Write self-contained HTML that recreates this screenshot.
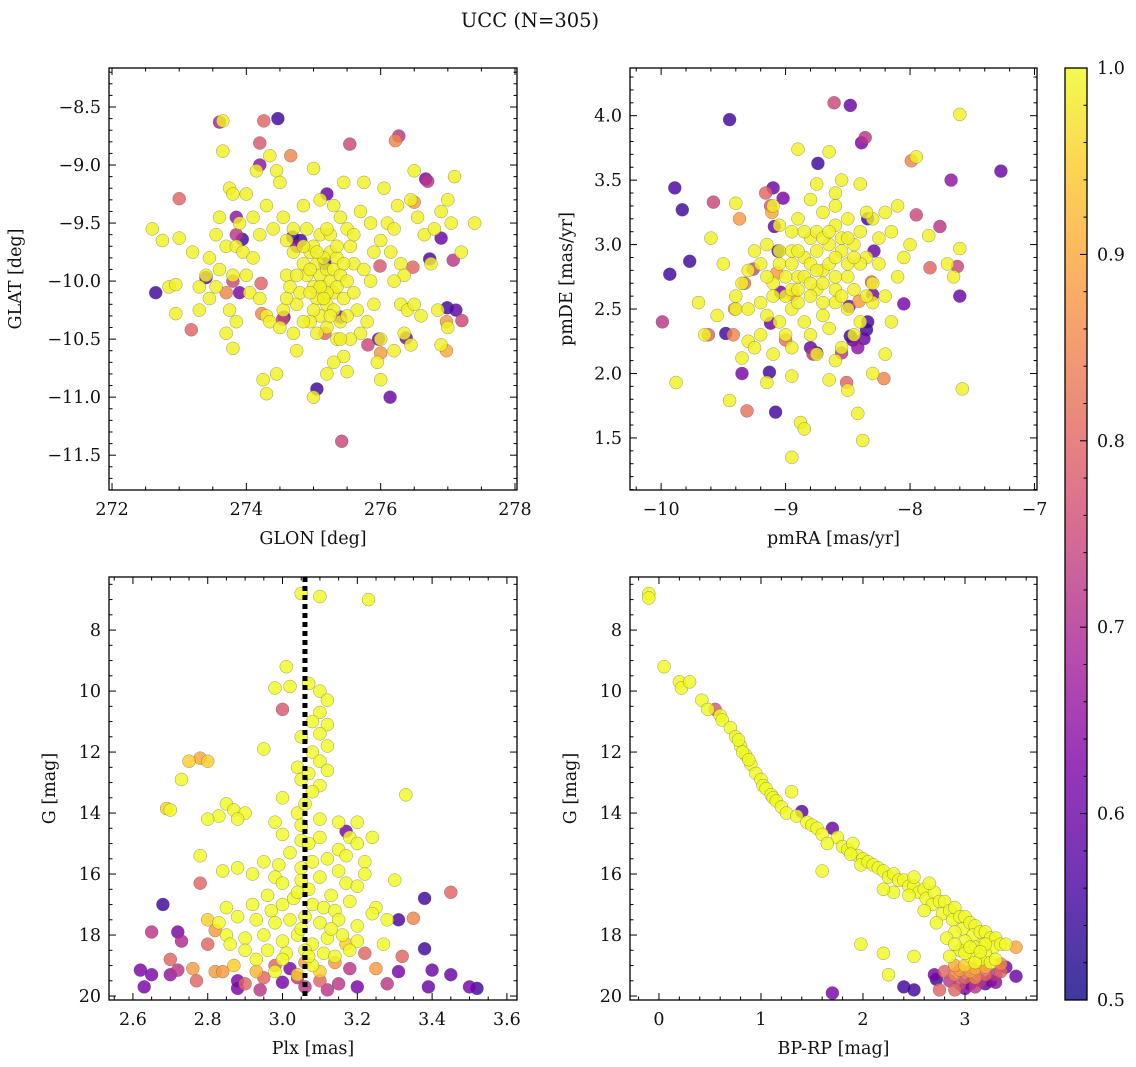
<!DOCTYPE html>
<html><head><meta charset="utf-8">
<style>
html,body{margin:0;padding:0;background:#fff;}
svg{display:block;font-family:"DejaVu Serif","Liberation Serif",serif;}
</style></head>
<body>
<svg id="fig" width="1136" height="1067" viewBox="0 0 1136 1067" xmlns="http://www.w3.org/2000/svg">
<text x="530" y="27" text-anchor="middle" font-size="19.5" fill="#111">UCC (N=305)</text>
<g id="layer"></g>
</svg>
<script>
// ---- Data ----
// Panel 1: GLON, GLAT, prob
const glonGlatYellow = [[272.6,-9.55],[272.75,-9.65],[272.85,-10.05],[272.95,-10.03],[273.0,-9.63],[273.2,-9.75],[272.95,-10.28],[273.45,-9.8],[273.4,-9.95],[273.55,-10.05],[273.45,-10.15],[273.6,-9.9],[273.7,-9.7],[273.8,-9.95],[273.75,-9.2],[273.8,-9.25],[273.65,-8.88],[273.9,-9.5],[273.85,-9.7],[273.95,-9.75],[274.0,-9.95],[273.75,-10.25],[273.85,-10.35],[273.7,-10.45],[273.8,-10.58],[274.05,-10.1],[274.1,-9.8],[274.2,-9.6],[274.3,-9.35],[274.35,-8.92],[274.45,-9.05],[274.5,-9.15],[274.2,-10.15],[274.3,-10.3],[274.35,-10.35],[274.25,-10.85],[274.3,-10.97],[274.45,-10.8],[274.5,-10.4],[274.55,-9.45],[274.6,-9.65],[274.7,-9.55],[274.7,-9.75],[274.6,-9.95],[274.65,-10.05],[274.75,-10.2],[274.55,-10.25],[274.7,-10.45],[274.75,-10.6],[274.85,-9.35],[274.9,-9.55],[274.95,-9.75],[274.85,-9.85],[274.9,-9.95],[275.0,-9.7],[275.05,-9.85],[275.1,-9.95],[275.0,-10.05],[275.05,-10.15],[275.15,-10.05],[275.2,-9.9],[275.25,-10.0],[275.3,-10.1],[275.2,-10.2],[275.1,-10.3],[275.0,-10.25],[274.95,-10.35],[275.25,-9.75],[275.35,-9.8],[275.3,-9.9],[275.4,-9.95],[275.35,-10.05],[275.45,-10.15],[275.3,-10.25],[275.4,-10.35],[275.2,-10.4],[275.0,-9.03],[275.1,-9.3],[275.3,-9.35],[275.4,-9.45],[275.5,-9.55],[275.45,-9.15],[275.55,-9.7],[275.6,-9.85],[275.5,-10.0],[275.6,-10.1],[275.65,-10.25],[275.7,-10.45],[275.55,-10.5],[275.45,-10.65],[275.3,-10.7],[275.5,-10.78],[275.2,-10.8],[275.0,-11.0],[275.85,-10.0],[275.9,-10.2],[275.8,-10.35],[276.0,-10.5],[275.95,-10.7],[276.0,-10.85],[276.05,-9.2],[276.1,-9.5],[276.2,-9.55],[276.0,-9.65],[276.15,-9.75],[276.3,-9.85],[276.35,-9.95],[276.2,-10.0],[276.3,-10.2],[276.4,-10.25],[276.5,-10.2],[276.6,-10.3],[276.35,-10.45],[276.45,-10.55],[276.2,-10.6],[276.45,-9.3],[276.55,-9.45],[276.65,-9.6],[276.75,-9.85],[276.8,-9.55],[276.9,-9.4],[277.0,-9.3],[277.1,-9.1],[277.05,-9.5],[277.2,-9.75],[277.4,-9.5],[276.85,-10.25],[277.0,-10.4],[276.9,-10.55],[275.75,-9.15],[275.7,-9.4],[275.85,-9.5],[276.25,-9.35],[276.5,-9.05],[274.0,-9.25],[274.15,-9.05],[274.4,-9.55],[274.1,-9.45],[273.6,-9.45],[273.55,-9.6],[273.3,-10.05],[273.3,-10.25],[273.65,-8.62],[275.1,-9.6],[275.15,-9.8],[274.95,-9.9],[275.2,-10.1],[275.1,-10.05],[275.25,-9.6],[274.8,-10.1],[275.35,-10.5],[275.45,-9.85],[274.85,-10.35],[275.05,-9.75],[275.15,-10.15],[274.95,-10.1],[275.25,-10.3],[275.35,-9.7],[275.05,-10.45],[274.85,-9.7],[275.5,-10.3],[275.6,-9.6],[274.75,-9.95],[275.2,-9.55],[275.4,-10.5],[274.6,-10.15],[275.75,-9.9],[275.9,-9.75]];
const glonGlatColored = [[272.65,-10.1,0.55],[273.6,-8.63,0.68],[274.26,-8.62,0.8],[274.47,-8.6,0.55],[274.2,-8.81,0.78],[274.66,-8.92,0.85],[274.2,-9.0,0.65],[275.54,-8.82,0.75],[276.27,-8.75,0.72],[276.22,-8.79,0.85],[276.7,-9.14,0.72],[276.67,-9.12,0.62],[276.5,-9.32,0.88],[276.9,-9.63,0.6],[273.0,-9.29,0.8],[273.85,-9.45,0.65],[273.85,-9.6,0.72],[273.94,-9.64,0.55],[273.4,-9.97,0.58],[273.9,-10.1,0.62],[273.18,-10.42,0.8],[274.23,-10.28,0.85],[274.54,-10.33,0.75],[274.56,-10.31,0.6],[275.17,-10.45,0.8],[275.4,-10.31,0.62],[275.81,-10.55,0.75],[275.97,-10.5,0.6],[276.38,-10.49,0.62],[275.99,-9.87,0.78],[276.48,-9.88,0.8],[276.73,-9.81,0.56],[277.08,-9.82,0.72],[276.99,-10.23,0.55],[277.12,-10.25,0.58],[277.21,-10.34,0.75],[275.05,-10.93,0.55],[275.42,-11.38,0.75],[276.14,-11.0,0.6],[276.0,-10.62,0.88],[276.98,-10.6,0.9],[276.98,-10.35,0.88],[274.81,-9.65,0.55],[274.75,-9.7,0.65],[274.69,-9.62,0.55],[275.2,-9.25,0.6],[275.17,-9.85,0.55],[273.8,-10.0,0.75],[273.7,-10.1,0.85],[274.22,-10.02,0.8]];
// Panel 2: pmRA, pmDE, prob
const pmYellow = [[-9.88,1.93],[-9.65,2.3],[-9.55,2.45],[-9.4,2.5],[-9.35,2.12],[-9.3,2.25],[-9.45,1.79],[-9.15,1.93],[-8.95,1.98],[-8.88,1.62],[-8.85,1.57],[-8.95,1.35],[-8.38,1.48],[-8.42,1.69],[-8.5,1.87],[-8.3,2.0],[-8.2,2.15],[-7.58,1.88],[-7.6,4.01],[-7.95,3.68],[-8.1,3.3],[-8.2,3.25],[-8.15,3.1],[-8.3,3.2],[-8.4,3.47],[-8.55,3.5],[-8.6,3.4],[-8.75,3.47],[-8.9,3.74],[-8.65,3.72],[-9.4,3.32],[-9.1,3.3],[-9.05,3.15],[-8.95,3.1],[-9.15,3.0],[-9.25,2.95],[-9.3,2.8],[-9.35,2.7],[-9.4,2.6],[-9.3,2.5],[-9.2,2.55],[-9.1,2.7],[-9.05,2.85],[-9.0,2.6],[-8.95,2.5],[-8.9,2.75],[-8.85,2.9],[-8.8,3.05],[-8.75,2.65],[-8.7,2.8],[-8.65,3.0],[-8.6,3.15],[-8.55,2.95],[-8.5,2.75],[-8.45,3.0],[-8.4,3.1],[-8.35,2.9],[-8.3,2.7],[-8.25,2.85],[-8.2,2.6],[-8.1,2.75],[-8.05,2.9],[-8.0,3.0],[-7.85,3.07],[-7.7,2.85],[-7.65,2.75],[-7.6,2.97],[-8.85,2.4],[-8.8,2.3],[-8.7,2.45],[-8.65,2.35],[-8.6,2.55],[-8.55,2.2],[-8.45,2.3],[-8.4,2.4],[-8.5,2.5],[-8.3,2.55],[-8.15,2.4],[-9.0,2.3],[-9.05,2.4],[-9.1,2.15],[-9.15,2.45],[-9.2,2.3],[-9.25,2.2],[-8.95,2.95],[-8.9,3.2],[-8.8,3.35],[-8.7,3.25],[-8.6,2.65],[-8.7,2.55],[-8.75,2.95],[-8.8,2.6],[-8.9,2.55],[-9.0,2.75],[-9.05,2.95],[-8.5,2.85],[-8.45,2.65],[-8.35,3.25],[-8.25,3.05],[-8.6,3.3],[-8.55,3.05],[-8.65,2.85],[-8.75,3.1],[-8.85,2.75],[-9.6,3.05],[-9.7,2.55],[-9.5,2.85],[-9.2,2.85],[-8.95,2.2],[-8.75,2.15],[-8.6,2.1],[-8.65,1.95],[-8.35,2.6],[-8.8,2.85],[-8.7,2.7],[-8.6,2.9],[-8.9,2.95],[-8.5,3.2],[-8.7,3.05],[-8.95,2.65],[-9.1,2.6],[-8.4,2.85],[-8.55,2.6],[-8.85,3.1],[-8.65,3.1],[-8.75,2.8],[-8.95,2.85],[-8.5,3.05],[-8.8,2.7],[-9.15,2.75],[-8.6,2.75],[-8.9,2.65],[-8.45,2.9]];
const pmColored = [[-9.45,3.97,0.55],[-8.61,4.1,0.75],[-8.48,4.08,0.6],[-8.36,3.83,0.72],[-8.39,3.79,0.62],[-8.74,3.63,0.55],[-7.27,3.57,0.6],[-7.67,3.5,0.65],[-7.99,3.65,0.85],[-9.89,3.44,0.56],[-9.83,3.27,0.55],[-9.77,2.87,0.55],[-9.93,2.77,0.55],[-9.58,3.33,0.75],[-9.37,3.2,0.88],[-9.16,3.4,0.8],[-9.1,3.44,0.6],[-9.02,3.36,0.62],[-9.12,3.3,0.78],[-9.11,3.25,0.9],[-9.09,3.14,0.6],[-9.06,2.95,0.55],[-9.26,2.81,0.75],[-9.07,2.78,0.88],[-9.33,2.7,0.82],[-9.04,2.63,0.62],[-8.94,2.61,0.88],[-9.12,2.39,0.6],[-9.0,2.26,0.82],[-8.8,2.2,0.6],[-8.75,2.16,0.55],[-8.78,2.15,0.72],[-8.55,2.16,0.72],[-8.48,2.29,0.55],[-8.46,2.26,0.6],[-8.42,2.2,0.65],[-8.49,2.52,0.62],[-8.41,2.56,0.88],[-8.35,2.34,0.55],[-8.34,2.4,0.56],[-8.37,2.27,0.6],[-8.31,2.71,0.8],[-8.3,2.61,0.62],[-8.34,3.2,0.55],[-8.29,2.95,0.6],[-8.05,2.54,0.62],[-7.95,3.23,0.75],[-7.84,2.82,0.8],[-7.76,3.14,0.72],[-7.62,2.83,0.75],[-7.6,2.6,0.6],[-8.21,1.96,0.85],[-8.51,1.93,0.8],[-9.13,2.01,0.55],[-9.08,1.7,0.55],[-9.31,1.71,0.82],[-9.35,2.0,0.62],[-9.48,2.31,0.55],[-9.99,2.4,0.72],[-9.42,2.3,0.85],[-9.41,2.5,0.88],[-9.62,2.3,0.8]];
// Panel 3: Plx, G, prob
const plxG = [[3.05,6.8,1],[3.1,6.9,1],[3.23,7.0,1],[3.01,9.2,1],[2.98,9.9,1],[3.02,9.85,1],[3.07,9.75,1],[3.0,10.6,0.78],[3.1,10.0,1],[3.12,10.3,1],[3.1,10.7,1],[3.08,11.0,1],[3.12,11.1,1],[3.1,11.4,1],[3.05,11.5,1],[3.12,11.8,1],[2.95,11.9,1],[3.08,12.0,1],[3.1,12.3,1],[2.75,12.3,0.95],[2.78,12.2,0.9],[2.8,12.3,0.95],[3.04,12.5,1],[3.12,12.6,1],[2.73,12.9,1],[3.05,12.9,1],[3.1,13.1,1],[3.08,13.3,1],[3.33,13.4,1],[2.69,13.85,0.95],[2.7,13.9,1],[2.85,13.7,1],[2.87,13.9,1],[2.83,14.1,1],[2.9,14.0,1],[2.88,14.2,1],[2.8,14.2,1],[3.0,13.5,1],[3.04,14.0,1],[3.1,14.2,1],[3.15,14.3,1],[3.2,14.3,1],[2.98,14.3,1],[3.0,14.7,1],[3.05,14.9,1],[3.1,14.8,1],[3.17,14.6,0.62],[3.18,14.8,1],[3.2,15.0,1],[3.24,14.8,1],[3.15,15.2,1],[2.78,15.4,1],[2.95,15.6,1],[2.99,15.7,1],[3.02,15.3,1],[3.08,15.6,1],[3.12,15.5,1],[3.17,15.4,1],[3.22,15.6,1],[3.15,15.9,1],[2.84,15.9,1],[2.88,15.8,1],[2.92,16.0,1],[2.98,16.1,1],[3.0,16.3,1],[3.05,16.2,1],[3.1,16.1,1],[3.17,16.3,1],[3.2,16.4,1],[3.22,16.0,1],[2.78,16.3,0.8],[3.3,16.2,1],[3.38,16.8,0.55],[3.45,16.6,0.8],[2.68,17.0,0.55],[2.85,17.1,1],[2.92,17.0,1],[2.97,17.2,1],[3.0,17.0,1],[3.03,16.8,1],[3.08,17.0,1],[3.11,17.1,1],[3.14,17.2,1],[3.18,16.9,1],[3.25,17.1,1],[2.8,17.5,0.95],[2.83,17.6,1],[2.88,17.4,1],[2.93,17.5,1],[2.98,17.6,1],[3.02,17.5,1],[3.06,17.4,1],[3.1,17.6,1],[3.15,17.5,1],[3.2,17.7,1],[3.24,17.3,1],[3.28,17.5,1],[3.31,17.5,0.56],[3.35,17.45,0.85],[2.65,17.9,0.72],[2.72,17.9,0.62],[2.73,18.2,0.7],[2.8,18.3,0.8],[2.85,18.0,1],[2.9,18.1,1],[2.95,18.0,1],[3.0,18.2,1],[3.04,18.0,1],[3.08,18.3,1],[3.12,18.1,1],[3.16,18.0,1],[3.2,18.2,1],[3.27,18.3,1],[2.82,17.85,0.88],[2.86,18.3,1],[2.96,18.5,1],[3.01,18.6,1],[3.06,18.5,1],[3.11,18.6,1],[3.18,18.5,1],[3.22,18.6,0.8],[3.32,18.7,0.8],[3.38,18.45,0.55],[2.7,18.8,0.8],[2.76,19.1,0.88],[2.82,19.2,0.88],[2.87,19.0,0.95],[2.93,19.2,0.92],[2.98,19.0,0.8],[3.02,19.1,0.62],[3.06,18.9,0.88],[3.1,19.2,0.95],[3.14,18.9,0.88],[3.18,19.1,0.72],[3.25,19.1,0.88],[3.31,19.2,0.62],[3.4,19.15,0.6],[3.45,19.3,0.6],[2.62,19.15,0.62],[2.65,19.3,0.62],[2.7,19.3,0.65],[2.72,19.15,0.72],[2.77,19.5,0.8],[2.84,19.2,0.88],[2.88,19.5,0.62],[2.9,19.6,0.8],[2.95,19.4,0.8],[3.0,19.55,0.62],[3.04,19.4,0.72],[3.06,19.7,0.72],[3.1,19.5,0.8],[3.15,19.6,0.72],[3.2,19.7,0.62],[3.28,19.6,0.72],[3.39,19.7,0.6],[3.5,19.7,0.62],[3.52,19.75,0.55],[2.63,19.7,0.62],[2.88,19.75,0.62],[2.94,19.8,0.72],[3.12,19.8,0.72],[2.98,19.2,1],[2.93,18.8,1],[3.0,18.8,1],[3.04,19.3,0.95],[3.08,19.0,1],[3.14,18.7,1],[3.07,12.7,1],[3.06,13.7,1],[3.05,14.4,1],[3.07,15.0,1],[3.05,15.8,1],[3.07,16.5,1],[3.05,17.8,1],[3.07,18.7,1],[3.04,16.6,1],[2.96,16.7,1],[3.13,16.7,1],[3.13,17.8,1],[2.9,18.5,1],[3.17,18.3,0.95]];
// Panel 4: BP-RP, G, prob
const cmd = [[-0.1,6.8,1],[-0.1,6.95,1],[0.05,9.2,1],[0.2,9.7,1],[0.22,9.9,1],[0.3,9.7,1],[0.42,10.3,1],[0.48,10.6,1],[0.55,10.6,0.78],[0.6,10.8,1],[0.62,10.95,1],[0.7,11.2,1],[0.75,11.5,1],[0.8,11.8,1],[0.78,11.6,1],[0.85,12.1,1],[0.82,12.0,1],[0.9,12.4,1],[0.88,12.25,1],[0.95,12.7,1],[1.0,12.9,1],[1.02,13.1,1],[1.05,13.2,1],[1.1,13.4,1],[1.12,13.5,1],[1.15,13.6,1],[1.2,13.8,1],[1.25,14.0,1],[1.3,13.3,1],[1.35,14.1,1],[1.4,13.95,0.58],[1.45,14.3,1],[1.5,14.4,1],[1.55,14.5,1],[1.6,14.7,1],[1.7,14.5,0.6],[1.75,14.8,1],[1.65,15.0,1],[1.8,15.1,1],[1.85,15.2,1],[1.9,15.0,1],[1.95,15.4,1],[1.88,15.35,1],[2.0,15.5,1],[1.98,15.7,1],[2.05,15.6,1],[2.1,15.7,1],[2.15,15.8,1],[2.2,15.9,1],[2.25,16.1,1],[2.3,16.0,1],[2.35,16.2,1],[2.4,16.2,1],[2.45,16.4,1],[2.5,16.4,1],[2.5,16.1,1],[2.55,16.6,1],[2.6,16.5,1],[2.62,16.8,1],[2.7,16.6,1],[2.68,17.0,1],[2.75,16.9,1],[2.8,16.9,1],[2.78,17.3,1],[2.85,17.2,1],[2.9,17.1,1],[2.88,17.5,1],[2.95,17.4,1],[3.0,17.4,1],[2.98,17.8,1],[3.05,17.6,1],[3.1,17.7,1],[3.08,18.0,1],[3.15,17.9,1],[3.2,17.9,1],[3.18,18.3,1],[3.25,18.1,1],[3.3,18.1,1],[3.28,18.4,1],[3.35,18.3,1],[3.4,18.3,1],[3.5,18.4,0.9],[2.9,17.9,1],[3.0,18.2,1],[3.1,18.4,1],[3.2,18.6,1],[2.95,18.5,1],[3.05,18.7,1],[3.15,18.8,1],[3.25,18.9,1],[2.85,18.7,1],[3.0,19.0,0.95],[3.1,19.1,0.9],[3.3,18.8,1],[2.82,18.1,1],[2.72,17.6,1],[2.6,17.2,1],[2.65,16.3,1],[2.45,16.7,1],[2.3,16.6,1],[2.2,16.5,1],[1.6,15.9,1],[1.7,19.9,0.62],[2.4,19.7,0.55],[2.5,19.8,0.55],[1.98,18.3,1],[2.2,18.6,1],[2.25,19.3,1],[2.5,18.7,1],[2.7,19.3,0.62],[2.72,19.45,0.55],[3.5,19.35,0.6],[2.8,19.2,0.8],[2.85,19.5,0.72],[2.9,19.3,0.85],[2.95,19.6,0.75],[3.0,19.4,0.8],[3.05,19.6,0.62],[3.1,19.4,0.85],[3.15,19.5,0.72],[3.2,19.3,0.8],[3.25,19.5,0.62],[3.3,19.3,0.72],[3.35,19.2,0.8],[3.4,19.05,0.62],[2.9,19.8,0.8],[3.0,19.75,0.62],[3.1,19.7,0.72],[2.75,19.8,0.8],[3.2,19.6,0.6],[2.95,19.15,0.88],[3.05,19.2,0.88],[3.15,19.0,0.88],[3.3,19.55,0.65],[2.9,19.0,0.9],[3.2,19.05,0.9],[3.35,18.95,0.85],[3.0,18.6,1],[3.1,18.9,1],[3.2,18.3,1],[2.9,18.3,1],[3.05,18.4,1],[3.15,18.55,1]];
const cbTicks = [0.5,0.6,0.7,0.8,0.9,1.0];
const YEL = 0.99;

// ---- helpers ----
const NS = "http://www.w3.org/2000/svg";
const layer = document.getElementById('layer');
function mk(tag, attrs, parent){const e=document.createElementNS(NS,tag);for(const k in attrs)e.setAttribute(k,attrs[k]);(parent||layer).appendChild(e);return e;}
const stops=[[0,[13,8,135]],[0.125,[75,3,161]],[0.25,[125,3,168]],[0.375,[168,34,150]],[0.5,[203,70,121]],[0.625,[229,107,93]],[0.75,[248,148,65]],[0.875,[253,195,40]],[1,[240,249,33]]];
function plasma(c){let t=Math.max(0,Math.min(1,(c-0.5)/0.5));for(let i=1;i<stops.length;i++){if(t<=stops[i][0]){const a=stops[i-1],b=stops[i];const f=(t-a[0])/(b[0]-a[0]);const r=a[1].map((v,j)=>Math.round(v+(b[1][j]-v)*f));return `rgb(${r[0]},${r[1]},${r[2]})`;}}return 'rgb(240,249,33)';}
function fmt(v,d){const s=v.toFixed(d);return s.replace('-','\u2212');}
const FS = 17.5;

function panel(cfg){
  const {x0,x1,y0,y1,xmin,xmax,ymin,ymax,invY,name}=cfg;
  const sx=v=>x0+(v-xmin)/(xmax-xmin)*(x1-x0);
  const sy=invY? (v=>y0+(v-ymin)/(ymax-ymin)*(y1-y0)) : (v=>y1-(v-ymin)/(ymax-ymin)*(y1-y0));
  const g=mk('g',{});
  
  
  const clipId='clip-'+name;
  const cp=mk('clipPath',{id:clipId},g);mk('rect',{x:x0,y:y0,width:x1-x0,height:y1-y0},cp);
  const pts=mk('g',{'clip-path':`url(#${clipId})`},g);
  
  
  return {sx,sy,g,pts,cfg};
}
function finishAxes(P){
  const {x0,x1,y0,y1,xmin,xmax,ymin,ymax,xMaj,xMin,yMaj,yMin,xd,yd,xlabel,ylabel,name}=P.cfg;
  const g=P.g;
  const eps=1e-9;
  const tk=(x1a,y1a,x2a,y2a)=>mk('line',{x1:x1a,y1:y1a,x2:x2a,y2:y2a,stroke:'#000','stroke-width':1},g);
  const lo=Math.min(xmin,xmax),hi=Math.max(xmin,xmax);
  for(let v=Math.ceil(lo/xMin-eps)*xMin; v<=hi+eps; v+=xMin){const x=P.sx(v);const isM=Math.abs(v/xMaj-Math.round(v/xMaj))<1e-6;const L=isM?7:3.5;tk(x,y1,x,y1-L);tk(x,y0,x,y0+L);
    if(isM){const t=mk('text',{x:x,y:y1+25,'text-anchor':'middle','font-size':FS,fill:'#111'},g);t.textContent=fmt(Math.round(v/xMaj)*xMaj,xd);}}
  const ylo=Math.min(ymin,ymax),yhi=Math.max(ymin,ymax);
  for(let v=Math.ceil(ylo/yMin-eps)*yMin; v<=yhi+eps; v+=yMin){const y=P.sy(v);const isM=Math.abs(v/yMaj-Math.round(v/yMaj))<1e-6;const L=isM?7:3.5;tk(x0,y,x0+L,y);tk(x1,y,x1-L,y);
    if(isM){const t=mk('text',{x:x0-8,y:y+6,'text-anchor':'end','font-size':FS,fill:'#111'},g);t.textContent=fmt(Math.round(v/yMaj)*yMaj,yd);}}
  mk('rect',{x:x0,y:y0,width:x1-x0,height:y1-y0,fill:'none',stroke:'#000','stroke-width':1.3},g);
  const xl=mk('text',{x:(x0+x1)/2,y:y1+54,'text-anchor':'middle','font-size':FS,fill:'#111'},g);xl.textContent=xlabel;
  
  
  const yc=(y0+y1)/2;const yl=mk('text',{x:0,y:0,'text-anchor':'middle','font-size':FS,fill:'#111',transform:`translate(${P.cfg.x0-P.cfg.ylOff},${yc}) rotate(-90)`},g);yl.textContent=ylabel;
  
  
}
function dot(P,x,y,c){const e=mk('circle',{cx:P.sx(x).toFixed(1),cy:P.sy(y).toFixed(1),r:6.5,fill:plasma(c),'fill-opacity':0.82,stroke:'#555','stroke-opacity':0.6,'stroke-width':0.5},P.pts);
  
  }
function drawSorted(P,arr){arr.slice().sort((a,b)=>a[2]-b[2]).forEach(p=>dot(P,p[0],p[1],p[2]));}

// Panel 1
const P1=panel({name:'glon-glat-panel',x0:109,x1:517,y0:68,y1:490,xmin:271.955,xmax:278.03,ymin:-11.80,ymax:-8.164,invY:false,xMaj:2,xMin:0.5,yMaj:0.5,yMin:0.1,xd:0,yd:1,xlabel:'GLON [deg]',ylabel:'GLAT [deg]',ylOff:88});
drawSorted(P1, glonGlatYellow.map(p=>[p[0],p[1],YEL]).concat(glonGlatColored));
finishAxes(P1);
// Panel 2
const P2=panel({name:'pm-panel',x0:630,x1:1037,y0:68,y1:490,xmin:-10.25,xmax:-6.98,ymin:1.096,ymax:4.37,invY:false,xMaj:1,xMin:0.2,yMaj:0.5,yMin:0.1,xd:0,yd:1,xlabel:'pmRA [mas/yr]',ylabel:'pmDE [mas/yr]',ylOff:58});
drawSorted(P2, pmYellow.map(p=>[p[0],p[1],YEL]).concat(pmColored));
finishAxes(P2);
// Panel 3
const P3=panel({name:'plx-g-panel',x0:109,x1:517,y0:577,y1:1000,xmin:2.536,xmax:3.627,ymin:6.26,ymax:20.13,invY:true,xMaj:0.2,xMin:0.05,yMaj:2,yMin:0.5,xd:1,yd:0,xlabel:'Plx [mas]',ylabel:'G [mag]',ylOff:54});
drawSorted(P3, plxG);
const plxLine=mk('line',{x1:P3.sx(3.06),x2:P3.sx(3.06),y1:577,y2:1000,stroke:'#000','stroke-width':5,'stroke-dasharray':'5,4'},P3.pts);


finishAxes(P3);
// Panel 4
const P4=panel({name:'cmd-panel',x0:630,x1:1037,y0:577,y1:1000,xmin:-0.284,xmax:3.706,ymin:6.26,ymax:20.13,invY:true,xMaj:1,xMin:0.2,yMaj:2,yMin:0.5,xd:0,yd:0,xlabel:'BP-RP [mag]',ylabel:'G [mag]',ylOff:54});
drawSorted(P4, cmd);
finishAxes(P4);

// Colorbar
const cb=mk('g',{});


const defs=mk('defs',{},cb);const lg=mk('linearGradient',{id:'plasmaGrad',x1:0,y1:1,x2:0,y2:0},defs);
stops.forEach(s=>mk('stop',{offset:s[0],'stop-color':`rgb(${s[1].join(',')})`},lg));
const cbx0=1065,cbx1=1087,cby0=68,cby1=1000;
mk('rect',{x:cbx0,y:cby0,width:cbx1-cbx0,height:cby1-cby0,fill:'url(#plasmaGrad)','fill-opacity':0.8},cb);
const cbY=v=>cby1-(v-0.5)/0.5*(cby1-cby0);
for(let i=0;i<=25;i++){const v=0.5+i*0.02;const y=cbY(v);const maj=i%5===0;mk('line',{x1:cbx1,x2:cbx1-(maj?7:3.5),y1:y,y2:y,stroke:'#000','stroke-width':1},cb);}
cbTicks.forEach(v=>{const t=mk('text',{x:cbx1+10,y:cbY(v)+6,'font-size':FS,fill:'#111'},cb);t.textContent=v.toFixed(1);
  
  });
mk('rect',{x:cbx0,y:cby0,width:cbx1-cbx0,height:cby1-cby0,fill:'none',stroke:'#000','stroke-width':1.3},cb);
</script>
</body></html>
